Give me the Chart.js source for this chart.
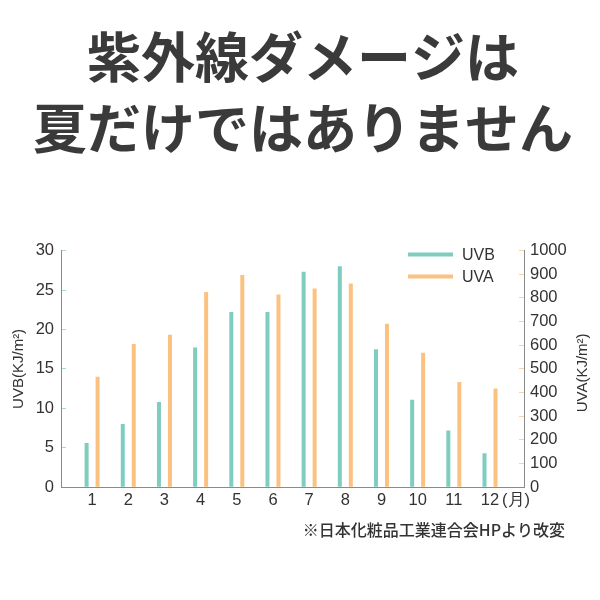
<!DOCTYPE html>
<html>
<head>
<meta charset="utf-8">
<script src="https://cdn.jsdelivr.net/npm/chart.js@4"></script>
<style>
  html, body { margin:0; padding:0; background:#fff; }
  #wrap { width:600px; height:600px; }
</style>
</head>
<body>
<div id="wrap"><canvas id="uvChart" width="600" height="600"></canvas></div>
<script>
const months = [1, 2, 3, 4, 5, 6, 7, 8, 9, 10, 11, 12];
const uvb = [5.6, 8.0, 10.8, 17.7, 22.2, 22.2, 27.3, 28.0, 17.5, 11.1, 7.2, 4.3];
const uva = [467, 605, 644, 825, 897, 814, 840, 861, 691, 568, 445, 417];
const unitTick = 12.72;           // where the "(月)" label sits
const titleLines = ["紫外線ダメージは", "夏だけではありません"];
const uvaTitle = "UVA(KJ/m²)";
const note = "※日本化粧品工業連合会HPより改変";

const TEAL = "#7fcdbf";
const ORANGE = "#fbc180";
const TXT = "#333333";
const SANS = "Arial, 'Liberation Sans', sans-serif";
const JP = "'Noto Sans CJK JP', sans-serif";

// legend, right axis title (reads bottom to top) and source note
const extras = {
  id: "extras",
  afterDraw(chart){
    const {ctx, chartArea} = chart;
    ctx.save();
    chart.data.datasets.forEach((ds, i) => {
      const y = chartArea.top + 4 + i * 22;
      ctx.strokeStyle = ds.backgroundColor;
      ctx.lineWidth = 4;
      ctx.beginPath();
      ctx.moveTo(chartArea.right - 116, y);
      ctx.lineTo(chartArea.right - 71, y);
      ctx.stroke();
      ctx.fillStyle = TXT;
      ctx.font = "16px " + SANS;
      ctx.textBaseline = "middle";
      ctx.textAlign = "left";
      ctx.fillText(ds.label, chartArea.right - 62, y + 1);
    });

    ctx.save();
    ctx.translate(chartArea.right + 59, (chartArea.top + chartArea.bottom) / 2 + 4);
    ctx.rotate(-Math.PI / 2);
    ctx.font = "15px " + SANS;
    ctx.textAlign = "center";
    ctx.textBaseline = "middle";
    ctx.fillStyle = TXT;
    ctx.fillText(uvaTitle, 0, 0);
    ctx.restore();

    ctx.font = "500 16px " + JP;
    ctx.textAlign = "right";
    ctx.textBaseline = "middle";
    ctx.fillStyle = TXT;
    ctx.fillText(note, 565, 530);
    ctx.restore();
  }
};

new Chart(document.getElementById("uvChart"), {
  type: "bar",
  data: {
    datasets: [
      {
        label: "UVB",
        data: months.map((m, i) => ({ x: m, y: uvb[i] })),
        backgroundColor: TEAL,
        yAxisID: "y"
      },
      {
        label: "UVA",
        data: months.map((m, i) => ({ x: m, y: uva[i] })),
        backgroundColor: ORANGE,
        yAxisID: "y1"
      }
    ]
  },
  options: {
    responsive: false,
    animation: false,
    categoryPercentage: 0.844,
    barPercentage: 0.364,
    layout: { padding: { left: 6, right: 0, top: 0, bottom: 87 } },
    plugins: {
      legend: { display: false },
      tooltip: { enabled: false },
      title: {
        display: true,
        text: titleLines,
        color: "#3a3a3a",
        font: { family: JP, size: 54, weight: "bold", lineHeight: 1.333 },
        padding: { top: 21, bottom: 85.6 }
      }
    },
    scales: {
      x: {
        type: "linear",
        offset: false,
        min: 0.14,
        max: 12.94,
        afterBuildTicks(scale){
          scale.ticks = months.map(m => ({ value: m })).concat([{ value: unitTick }]);
        },
        ticks: {
          autoSkip: false,
          maxRotation: 0,
          padding: 3,
          color: TXT,
          font: { family: SANS, size: 16.5 },
          callback: v => v === unitTick ? "(月)" : String(v)
        },
        grid: { display: false, drawTicks: false, offset: false },
        border: { color: "#8a8a8a", width: 1 }
      },
      y: {
        position: "left",
        min: 0,
        max: 30,
        afterFit(scale){ scale.width = 55; },
        ticks: { stepSize: 5, padding: 12, color: TXT, font: { family: SANS, size: 16.5 } },
        grid: { drawOnChartArea: false, tickLength: -5, tickColor: "#a8ddd4", lineWidth: 1 },
        border: { color: "#8a8a8a", width: 1 },
        title: {
          display: true,
          text: "UVB(KJ/m²)",
          color: TXT,
          font: { family: SANS, size: 15 },
          padding: { top: 4, bottom: 10 }
        }
      },
      y1: {
        position: "right",
        min: 0,
        max: 1000,
        afterFit(scale){ scale.width = 76; },
        ticks: {
          stepSize: 100,
          padding: 11,
          color: TXT,
          font: { family: SANS, size: 16.5 },
          callback: v => String(v)
        },
        grid: { drawOnChartArea: false, tickLength: -5, tickColor: "#fcd3a6", lineWidth: 1 },
        border: { color: "#8a8a8a", width: 1 }
      }
    }
  },
  plugins: [extras]
});
</script>
</body>
</html>
